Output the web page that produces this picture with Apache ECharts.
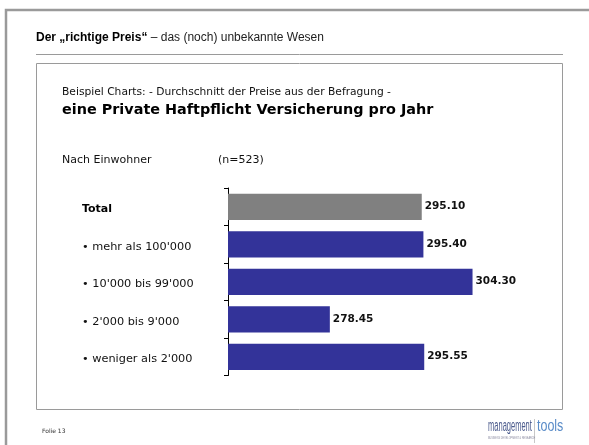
<!DOCTYPE html>
<html>
<head>
<meta charset="utf-8">
<script src="https://cdn.jsdelivr.net/npm/echarts@6/dist/echarts.min.js"></script>
<style>
  html, body { margin: 0; padding: 0; background: #fff; }
  #chartBox { width: 589px; height: 445px; }
</style>
</head>
<body>
<div id="chartBox"></div>
<script>
// Kategorien (von oben nach unten) und Durchschnittspreise
const categories = ["Total", "mehr als 100'000", "10'000 bis 99'000", "2'000 bis 9'000", "weniger als 2'000"];
const prices = [295.10, 295.40, 304.30, 278.45, 295.55];
const barColors = ["#808080", "#333399", "#333399", "#333399", "#333399"];

const font = "'DejaVu Sans', Verdana, sans-serif";
const arial = "'Liberation Sans', Arial, sans-serif";
const chart = echarts.init(document.getElementById("chartBox"));

const option = {
  animation: false,
  grid: { left: 228, top: 188, width: 276, height: 187.5, containLabel: false },
  xAxis: {
    type: "value",
    min: 260,
    max: 310,
    show: false
  },
  yAxis: {
    type: "category",
    inverse: true,
    data: categories,
    axisLine: { lineStyle: { color: "#000", width: 1 } },
    axisTick: { show: true, length: 4, lineStyle: { color: "#000" } },
    axisLabel: {
      align: "left",
      margin: 146,
      fontFamily: font,
      fontSize: 11.3,
      color: "#111",
      padding: [5, 0, 0, 0],
      formatter: function (v, i) {
        return i === 0 ? "{b|" + v + "}" : "• " + v;
      },
      rich: {
        b: { fontWeight: "bold", fontFamily: font, fontSize: 11, color: "#000" }
      }
    }
  },
  series: [{
    type: "bar",
    barCategoryGap: "30%",
    data: prices.map(function (v, i) {
      return { value: v, itemStyle: { color: barColors[i] } };
    }),
    label: {
      show: true,
      position: "right",
      distance: 3,
      fontFamily: font,
      fontWeight: "bold",
      fontSize: 10.5,
      color: "#111",
      formatter: function (p) { return p.value.toFixed(2); }
    }
  }],
  graphic: [
    // Rahmen der Folie
    { type: "polyline", shape: { points: [[6, 445], [6, 10], [589, 10]] },
      style: { stroke: "#9a9a9a", lineWidth: 2.5, fill: null } },
    { type: "text", left: 36, top: 32,
      style: { text: "{b|Der „richtige Preis“} – das (noch) unbekannte Wesen",
        font: "12px " + arial, fill: "#222",
        rich: { b: { fontWeight: "bold", fontFamily: arial, fontSize: 12, fill: "#000" } } } },
    { type: "line", shape: { x1: 36, y1: 54.5, x2: 563, y2: 54.5 },
      style: { stroke: "#9a9a9a", lineWidth: 1 } },
    { type: "rect", shape: { x: 36.5, y: 63.5, width: 526, height: 346 },
      style: { stroke: "#9a9a9a", lineWidth: 1, fill: null } },
    { type: "text", left: 62, top: 87,
      style: { text: "Beispiel Charts: - Durchschnitt der Preise aus der Befragung -",
        font: "10.7px " + font, fill: "#111" } },
    { type: "text", left: 62, top: 103,
      style: { text: "eine Private Haftpflicht Versicherung pro Jahr",
        font: "bold 14.4px " + font, fill: "#000" } },
    { type: "text", left: 62, top: 155,
      style: { text: "Nach Einwohner", font: "11px " + font, fill: "#111" } },
    { type: "text", left: 218, top: 155,
      style: { text: "(n=523)", font: "11px " + font, fill: "#111" } },
    // Fusszeile
    { type: "text", left: 42, top: 428,
      style: { text: "Folie 13", font: "6px " + font, fill: "#333" } },
    { type: "text", x: 488, y: 419, scaleX: 0.47,
      style: { text: "management", font: "16px " + arial, fill: "#4a5a8c" } },
    { type: "line", shape: { x1: 534.5, y1: 419, x2: 534.5, y2: 443 },
      style: { stroke: "#c8c8c8", lineWidth: 1 } },
    { type: "text", x: 537, y: 419, scaleX: 0.78,
      style: { text: "tools", font: "16px " + arial, fill: "#5a8cc8" } },
    { type: "text", x: 488, y: 437, scaleX: 0.8,
      style: { text: "BUSINESS DEVELOPMENT & RESEARCH", font: "3px " + arial, fill: "#8a8aa0" } }
  ]
};

chart.setOption(option);
</script>
</body>
</html>
